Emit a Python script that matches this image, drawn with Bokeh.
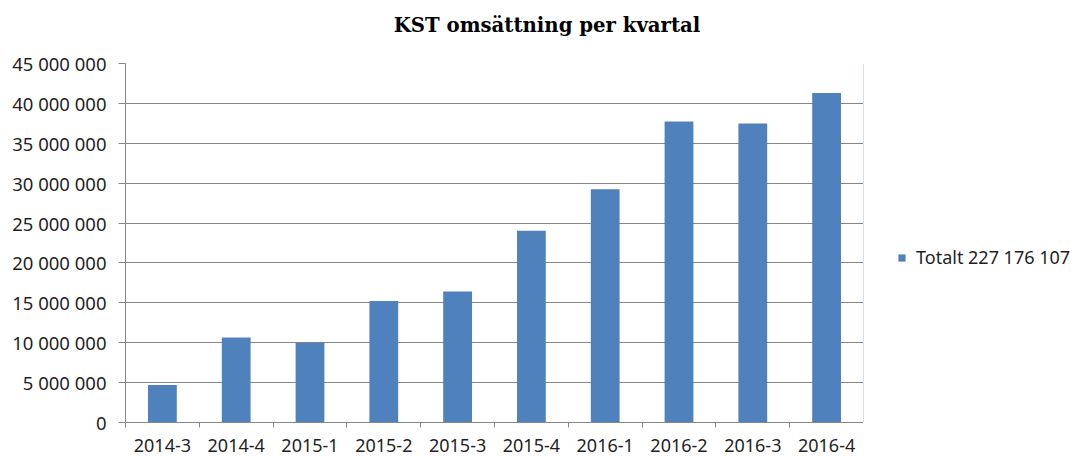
from bokeh.plotting import figure
from bokeh.models import FixedTicker, Legend, LegendItem, Range1d, ColumnDataSource, Label
from bokeh.layouts import column, row
from bokeh.embed import file_html
from bokeh.resources import INLINE

# ---- data ----
title_text = "KST omsättning per kvartal"
quarters = ["2014-3", "2014-4", "2015-1", "2015-2", "2015-3",
            "2015-4", "2016-1", "2016-2", "2016-3", "2016-4"]
revenue = [4700000, 10670000, 10010000, 15220000, 16430000,
           24020000, 29230000, 37740000, 37490000, 41290000]
y_ticks = [0, 5000000, 10000000, 15000000, 20000000, 25000000,
           30000000, 35000000, 40000000, 45000000]
y_tick_labels = ["0", "5 000 000", "10 000 000", "15 000 000", "20 000 000",
                 "25 000 000", "30 000 000", "35 000 000", "40 000 000", "45 000 000"]
legend_label = "Totalt 227 176 107"

BAR = "#4F81BD"
GRID = "#878787"
TXT = "#1f1f1f"
FONT = "Noto Sans"

n = len(quarters)
centers = [i + 0.5 for i in range(n)]
src = ColumnDataSource(dict(x=centers, top=revenue, q=quarters))


def blank(w, h):
    f = figure(width=w, height=h, output_backend="svg", toolbar_location=None, tools="",
               x_axis_location=None, y_axis_location=None,
               x_range=Range1d(0, 1), y_range=Range1d(0, 1), min_border=0)
    f.outline_line_color = None
    f.grid.grid_line_color = None
    f.background_fill_color = "white"
    f.border_fill_color = "white"
    return f


# ---- title strip ----
TITLE_H = 40
pt = blank(1075, TITLE_H)
pt.add_layout(Label(x=546.5, y=15.1, x_units="screen", y_units="screen",
                    text=title_text, text_font="DejaVu Serif", text_font_style="bold",
                    text_font_size="19.7px", text_align="center",
                    text_baseline="alphabetic", text_color="#000000"))

# ---- main chart ----
MAIN_H = 457 - TITLE_H
MAIN_W = 863
p = figure(width=MAIN_W, height=MAIN_H, output_backend="svg", toolbar_location=None, tools="",
           x_range=Range1d(0, n), y_range=Range1d(0, y_ticks[-1]),
           min_border_left=125, min_border_right=0, min_border_top=63 - TITLE_H,
           min_border_bottom=35)
p.outline_line_color = None
p.background_fill_color = "white"
p.border_fill_color = "white"

r = p.vbar(x="x", top="top", width=0.39, source=src, fill_color=BAR, line_color=None)

# x axis: labels at centres, tick marks at category boundaries
p.xaxis.ticker = FixedTicker(ticks=centers, minor_ticks=list(range(n + 1)))
p.xaxis.major_label_overrides = {c: q for c, q in zip(centers, quarters)}
p.xaxis.major_tick_line_color = None
p.xaxis.minor_tick_line_color = GRID
p.xaxis.minor_tick_in = 0
p.xaxis.minor_tick_out = 5
p.xaxis.axis_line_color = GRID
p.xaxis.major_label_text_font = FONT
p.xaxis.major_label_text_font_size = "18px"
p.xaxis.major_label_text_color = TXT
p.xaxis.major_label_standoff = 10
p.xaxis.major_label_text_line_height = 0.8
p.xgrid.grid_line_color = None

# y axis
p.yaxis.ticker = FixedTicker(ticks=y_ticks)
p.yaxis.major_label_overrides = {t: l for t, l in zip(y_ticks, y_tick_labels)}
p.yaxis.minor_tick_line_color = None
p.yaxis.major_tick_line_color = GRID
p.yaxis.major_tick_in = 0
p.yaxis.major_tick_out = 7
p.yaxis.axis_line_color = GRID
p.yaxis.major_label_standoff = 12
p.yaxis.major_label_text_font = FONT
p.yaxis.major_label_text_font_size = "18.5px"
p.yaxis.major_label_text_color = TXT
p.ygrid.grid_line_color = GRID
p.ygrid.grid_line_width = 1

# ---- legend strip ----
pl = blank(1075 - MAIN_W, MAIN_H)
# stand-in renderer (outside the strip's visible range) that gives the legend its swatch
rl = pl.vbar(x=[-5], top=[revenue[0]], width=0.1, fill_color=BAR, line_color=None)
legend = Legend(items=[LegendItem(label=legend_label, renderers=[rl])],
                location=(34, 153), orientation="vertical",
                glyph_width=9, glyph_height=9, label_height=18, label_standoff=10,
                padding=0, margin=0, border_line_color=None, background_fill_alpha=0,
                label_text_font=FONT, label_text_font_size="18px", label_text_color=TXT)
pl.add_layout(legend, "center")

layout = column(pt, row(p, pl, spacing=0), spacing=0)
open("out.html", "w").write(file_html(layout, INLINE))
